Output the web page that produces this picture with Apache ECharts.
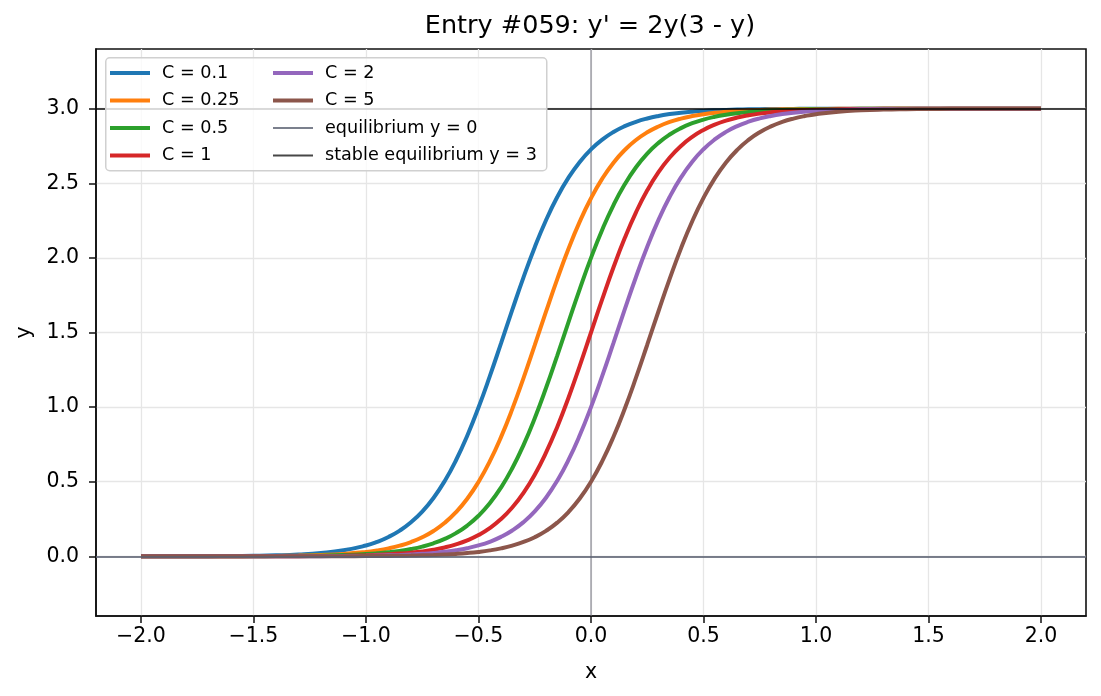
<!DOCTYPE html>
<html>
<head>
<meta charset="utf-8">
<script src="https://cdn.jsdelivr.net/npm/echarts@6/dist/echarts.min.js"></script>
<style>
  html, body { margin: 0; padding: 0; background: #fff; }
  #chart { width: 1101px; height: 696px; }
</style>
</head>
<body>
<div id="chart"></div>
<script>
// x positions of the sampled points (denser through the steep part)
const xs = [-2.0,-1.9,-1.8,-1.7,-1.6,-1.5,-1.4,-1.3,-1.2,-1.1,
  -1.0,-0.95,-0.9,-0.85,-0.8,-0.75,-0.7,-0.65,-0.6,-0.55,-0.5,-0.45,-0.4,-0.35,-0.3,-0.25,-0.2,-0.15,-0.1,-0.05,
  0.0,0.05,0.1,0.15,0.2,0.25,0.3,0.35,0.4,0.45,0.5,0.55,0.6,0.65,0.7,0.75,0.8,0.85,0.9,0.95,1.0,
  1.1,1.2,1.3,1.4,1.5,1.6,1.7,1.8,1.9,2.0]

// y values
const yC01 = [0.0002,0.0003,0.0006,0.0011,0.002,0.0037,0.0067,0.0122,0.0222,0.0403,
  0.0726,0.0971,0.1296,0.1724,0.2281,0.2999,0.3912,0.505,0.6438,0.8083,0.9971,1.2058,1.427,1.6514,1.8692,2.0716,2.2523,2.4078,2.5376,2.6432,
  2.7273,2.7931,2.8439,2.8828,2.9123,2.9345,2.9512,2.9637,2.973,2.98,2.9851,2.989,2.9918,2.9939,2.9955,2.9967,2.9975,2.9982,2.9986,2.999,2.9993,
  2.9996,2.9998,2.9999,2.9999,3.0,3.0,3.0,3.0,3.0,3.0]
const yC025 = [0.0001,0.0001,0.0002,0.0004,0.0008,0.0015,0.0027,0.0049,0.0089,0.0162,
  0.0295,0.0396,0.0532,0.0714,0.0956,0.1276,0.1698,0.2247,0.2956,0.3857,0.4982,0.6356,0.7988,0.9863,1.1941,1.4148,1.6393,1.8577,2.0611,2.243,
  2.4,2.5312,2.6381,2.7232,2.7899,2.8415,2.8809,2.9109,2.9335,2.9504,2.9631,2.9726,2.9796,2.9849,2.9888,2.9917,2.9938,2.9954,2.9966,2.9975,2.9981,
  2.999,2.9994,2.9997,2.9998,2.9999,3.0,3.0,3.0,3.0,3.0]
const yC05 = [0.0,0.0001,0.0001,0.0002,0.0004,0.0007,0.0013,0.0025,0.0045,0.0081,
  0.0148,0.0199,0.0269,0.0361,0.0486,0.0652,0.0874,0.1167,0.1554,0.2061,0.2717,0.3555,0.4607,0.5902,0.7454,0.9257,1.1278,1.3454,1.5698,1.7911,
  2.0,2.1891,2.354,2.4932,2.6073,2.6989,2.771,2.8269,2.8698,2.9025,2.9271,2.9457,2.9596,2.9699,2.9777,2.9834,2.9877,2.9909,2.9932,2.995,2.9963,
  2.998,2.9989,2.9994,2.9997,2.9998,2.9999,3.0,3.0,3.0,3.0]
const yC1 = [0.0,0.0,0.0001,0.0001,0.0002,0.0004,0.0007,0.0012,0.0022,0.0041,
  0.0074,0.01,0.0135,0.0182,0.0245,0.033,0.0443,0.0595,0.0798,0.1067,0.1423,0.1889,0.2495,0.3273,0.4256,0.5473,0.6944,0.8671,1.063,1.2767,
  1.5,1.7233,1.937,2.1329,2.3056,2.4527,2.5745,2.6727,2.7505,2.8111,2.8577,2.8933,2.9202,2.9405,2.9557,2.967,2.9755,2.9818,2.9865,2.99,2.9926,
  2.9959,2.9978,2.9988,2.9993,2.9996,2.9998,2.9999,3.0,3.0,3.0]
const yC2 = [0.0,0.0,0.0,0.0001,0.0001,0.0002,0.0003,0.0006,0.0011,0.002,
  0.0037,0.005,0.0068,0.0091,0.0123,0.0166,0.0223,0.0301,0.0404,0.0543,0.0729,0.0975,0.1302,0.1731,0.229,0.3011,0.3927,0.5068,0.646,0.8109,
  1.0,1.2089,1.4302,1.6546,1.8722,2.0743,2.2546,2.4098,2.5393,2.6445,2.7283,2.7939,2.8446,2.8833,2.9126,2.9348,2.9514,2.9639,2.9731,2.9801,2.9852,
  2.9919,2.9955,2.9975,2.9987,2.9993,2.9996,2.9998,2.9999,3.0,3.0]
const yC5 = [0.0,0.0,0.0,0.0,0.0,0.0001,0.0001,0.0002,0.0004,0.0008,
  0.0015,0.002,0.0027,0.0037,0.0049,0.0067,0.009,0.0121,0.0163,0.022,0.0296,0.0398,0.0535,0.0717,0.096,0.1282,0.1705,0.2256,0.2967,0.3871,
  0.5,0.6377,0.8013,0.9892,1.1971,1.418,1.6425,1.8607,2.0638,2.2455,2.402,2.5329,2.6394,2.7243,2.7907,2.8421,2.8814,2.9113,2.9337,2.9506,2.9633,
  2.9797,2.9888,2.9939,2.9966,2.9982,2.999,2.9994,2.9997,2.9998,2.9999]

const curveNames = ['C = 0.1', 'C = 0.25', 'C = 0.5', 'C = 1', 'C = 2', 'C = 5']
const curveValues = [yC01, yC025, yC05, yC1, yC2, yC5]
const curveColors = ['#1f77b4', '#ff7f0e', '#2ca02c', '#d62728', '#9467bd', '#8c564b']

const eqNames = ['equilibrium y = 0', 'stable equilibrium y = 3']
const eqLevels = [0, 3]
const eqColors = ['rgba(90,96,112,0.8)', 'rgba(0,0,0,0.72)']

const xTicks = [-2.0, -1.5, -1.0, -0.5, 0.0, 0.5, 1.0, 1.5, 2.0]
const yTicks = [0.0, 0.5, 1.0, 1.5, 2.0, 2.5, 3.0]

const FONT = 'DejaVu Sans'
const fmt = v => (v < 0 ? '\u2212' + Math.abs(v).toFixed(1) : v.toFixed(1))
const THICK = 'path://M0,0H40V4H0Z'
const THIN = 'path://M0,0H40V2H0Z'

const chart = echarts.init(document.getElementById('chart'), null, { renderer: 'canvas' })

const series = curveNames.map((name, i) => ({
  name,
  type: 'line',
  data: xs.map((x, j) => [x, curveValues[i][j]]),
  symbol: 'none',
  smooth: true,
  lineStyle: { color: curveColors[i], width: 4 },
  itemStyle: { color: curveColors[i] },
  z: 2
}))

eqNames.forEach((name, i) => {
  series.push({
    name,
    type: 'line',
    data: [],
    symbol: 'none',
    lineStyle: { color: eqColors[i], width: 2 },
    itemStyle: { color: eqColors[i] },
    markLine: {
      silent: true,
      symbol: 'none',
      label: { show: false },
      lineStyle: { color: eqColors[i], width: 2, type: 'solid' },
      data: [{ yAxis: eqLevels[i] }]
    }
  })
})

// vertical reference line at x = 0 (not in legend)
series.push({
  name: 'x0',
  type: 'line',
  data: [],
  symbol: 'none',
  markLine: {
    silent: true,
    symbol: 'none',
    z: 1,
    label: { show: false },
    lineStyle: { color: 'rgba(100,100,115,0.6)', width: 1.5, type: 'solid' },
    data: [{ xAxis: 0 }]
  }
})

const legendText = { fontFamily: FONT, fontSize: 17.6, color: '#000', padding: [0, 0, 0, 7] }
const legendItem = name => ({ name, icon: eqNames.includes(name) ? THIN : THICK })

chart.setOption({
  animation: false,
  backgroundColor: '#fff',
  title: {
    text: "Entry #059: y' = 2y(3 - y)",
    left: 590,
    top: 13,
    padding: 0,
    textAlign: 'center',
    textStyle: { fontFamily: FONT, fontSize: 25.5, fontWeight: 'normal', color: '#000' }
  },
  grid: {
    left: 96, right: 15, top: 49, bottom: 80,
    show: true, borderColor: '#111', borderWidth: 1.6, backgroundColor: 'transparent'
  },
  legend: [
    {
      data: curveNames.slice(0, 4).map(legendItem),
      orient: 'vertical', left: 110, top: 64, padding: 0, itemGap: 9.5,
      itemWidth: 40, itemHeight: 14, z: 10, textStyle: legendText
    },
    {
      data: curveNames.slice(4).concat(eqNames).map(legendItem),
      orient: 'vertical', left: 273, top: 64, padding: 0, itemGap: 9.5,
      itemWidth: 40, itemHeight: 14, z: 10, textStyle: legendText
    }
  ],
  graphic: [{
    type: 'rect', left: 105, top: 57, z: 8,
    shape: { width: 441, height: 113, r: 4 },
    style: { fill: 'rgba(255,255,255,0.8)', stroke: '#d0d0d0', lineWidth: 1.5 }
  }],
  xAxis: {
    type: 'value', min: -2.2, max: 2.2,
    name: 'x', nameLocation: 'middle', nameGap: 46,
    nameTextStyle: { fontFamily: FONT, fontSize: 20.5, color: '#000' },
    axisLine: { show: true, onZero: false, lineStyle: { color: '#111', width: 1.6 } },
    axisTick: { show: true, inside: false, length: 7, lineStyle: { color: '#111', width: 1.5 }, customValues: xTicks },
    axisLabel: { customValues: xTicks, formatter: fmt, fontFamily: FONT, fontSize: 20.5, color: '#000', margin: 10 },
    splitLine: { show: true, lineStyle: { color: '#e6e6e6', width: 1.3 } }
  },
  yAxis: {
    type: 'value', min: -0.4, max: 3.4,
    name: 'y', nameLocation: 'middle', nameGap: 58,
    nameTextStyle: { fontFamily: FONT, fontSize: 20.5, color: '#000' },
    axisLine: { show: true, onZero: false, lineStyle: { color: '#111', width: 1.6 } },
    axisTick: { show: true, inside: false, length: 7, lineStyle: { color: '#111', width: 1.5 }, customValues: yTicks },
    axisLabel: { customValues: yTicks, formatter: fmt, fontFamily: FONT, fontSize: 20.5, color: '#000', margin: 17 },
    splitLine: { show: true, lineStyle: { color: '#e6e6e6', width: 1.3 } }
  },
  series
})

window.addEventListener('resize', () => chart.resize())
</script>
</body>
</html>
